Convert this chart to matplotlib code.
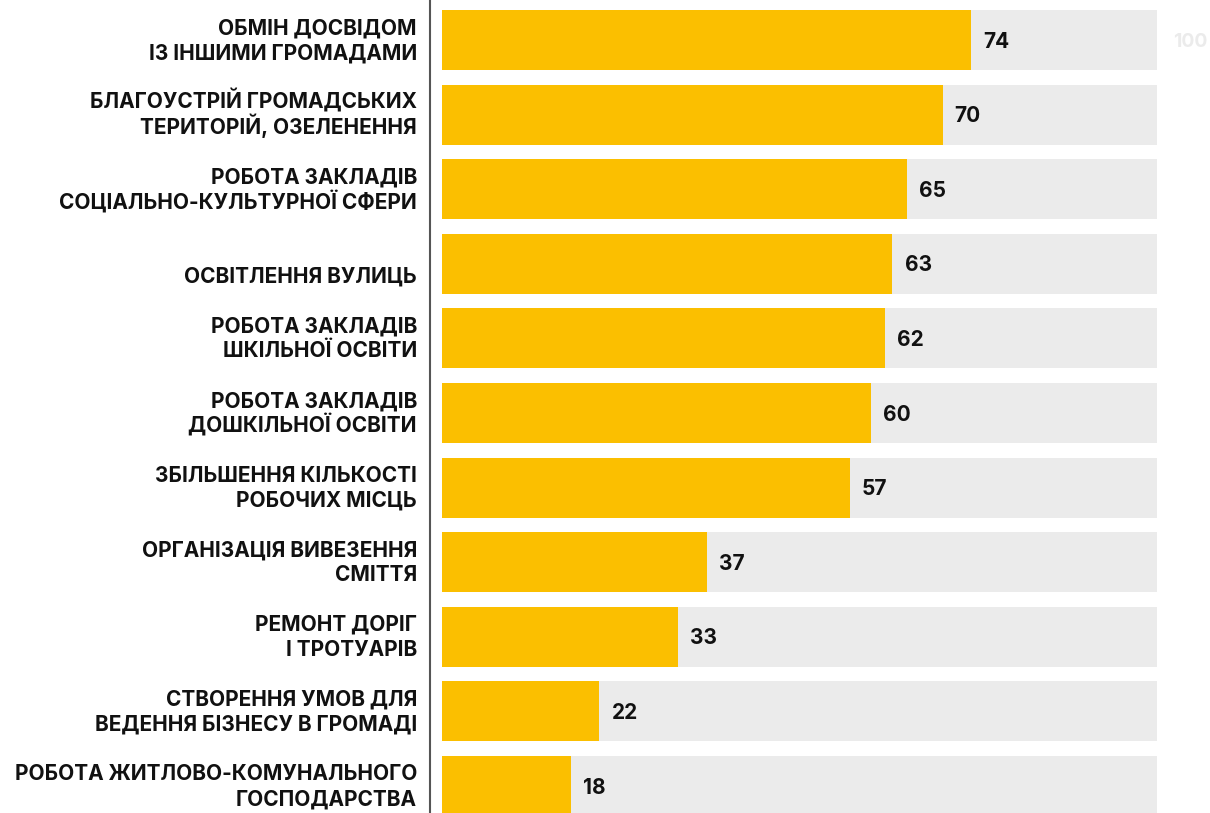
import matplotlib.pyplot as plt
from matplotlib.lines import Line2D

labels = [
    ["ОБМІН ДОСВІДОМ", "ІЗ ІНШИМИ ГРОМАДАМИ"],
    ["БЛАГОУСТРІЙ ГРОМАДСЬКИХ", "ТЕРИТОРІЙ, ОЗЕЛЕНЕННЯ"],
    ["РОБОТА ЗАКЛАДІВ", "СОЦІАЛЬНО-КУЛЬТУРНОЇ СФЕРИ"],
    ["", "ОСВІТЛЕННЯ ВУЛИЦЬ"],
    ["РОБОТА ЗАКЛАДІВ", "ШКІЛЬНОЇ ОСВІТИ"],
    ["РОБОТА ЗАКЛАДІВ", "ДОШКІЛЬНОЇ ОСВІТИ"],
    ["ЗБІЛЬШЕННЯ КІЛЬКОСТІ", "РОБОЧИХ МІСЦЬ"],
    ["ОРГАНІЗАЦІЯ ВИВЕЗЕННЯ", "СМІТТЯ"],
    ["РЕМОНТ ДОРІГ", "І ТРОТУАРІВ"],
    ["СТВОРЕННЯ УМОВ ДЛЯ", "ВЕДЕННЯ БІЗНЕСУ В ГРОМАДІ"],
    ["РОБОТА ЖИТЛОВО-КОМУНАЛЬНОГО", "ГОСПОДАРСТВА"],
]
values = [74, 70, 65, 63, 62, 60, 57, 37, 33, 22, 18]
full = 100

plt.rcParams['font.family'] = ['Inter', 'DejaVu Sans']

W, H = 1210, 813
fig = plt.figure(figsize=(W / 100, H / 100), dpi=100)
ax = fig.add_axes([442 / W, 0, (1157 - 442) / W, 1])

step = 74.6  # px between bar centres
y = list(range(len(values)))
ax.barh(y, [full] * len(values), height=60 / step, color='#ebebeb')
ax.barh(y, values, height=60 / step, color='#fbbf00')
ax.set_xlim(0, full)
ax.set_ylim((H - 40) / step, -40 / step)
ax.axis('off')

txt = dict(fontsize=15, fontweight='bold', color='#111111', va='baseline')
for i, (lab, v) in enumerate(zip(labels, values)):
    ax.text(v + 1.7, i + 7.5 / step, str(v), ha='left', **txt)
    ax.text(-3.5, i - 6 / step, lab[0], ha='right', **txt)
    ax.text(-3.5, i + 19 / step, lab[1], ha='right', **txt)

ax.text(full + 2.2, 0 + 7 / step, str(full), ha='left', fontsize=14,
        fontweight='bold', color='#ebebeb', va='baseline')

fig.add_artist(Line2D([430 / W, 430 / W], [0, 1], color='#555555', lw=1.5))

fig.savefig('out.png', dpi=100)
